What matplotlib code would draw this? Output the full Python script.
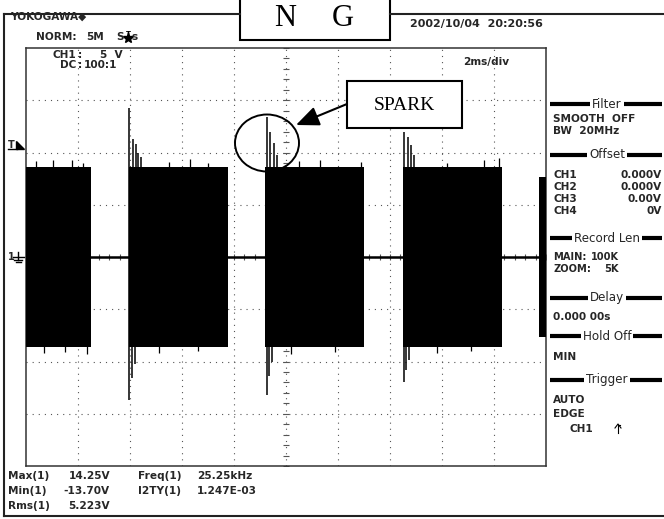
import matplotlib
matplotlib.use('Agg')
import matplotlib.pyplot as plt
from matplotlib.patches import Rectangle, Ellipse, FancyArrowPatch, Polygon
import numpy as np

ms_per_div = 2.0
volt_per_div = 5.0
n_xdiv, n_ydiv = 10, 8

burst_start_ms = [0.0, 3.96, 9.19, 14.50, 19.73]
burst_end_ms = [2.50, 7.77, 13.00, 18.30, 20.00]
burst_amp_v = [8.6, 8.6, 8.6, 8.6, 7.7]

spike_t_ms = [3.98, 4.12, 4.22, 4.30, 4.42, 9.28, 9.40, 9.54, 9.66, 14.54, 14.68, 14.80, 14.92, 19.75]
spike_hi_v = [14.25, 11.3, 10.8, 10.0, 9.6, 13.4, 12.0, 10.9, 9.8, 12.0, 11.5, 10.7, 9.8, 7.7]
spike_lo_t_ms = [3.98, 4.08, 4.18, 9.28, 9.36, 9.46, 14.54, 14.62, 14.72]
spike_lo_v = [-13.7, -11.6, -10.2, -13.2, -11.4, -10.0, -12.0, -10.8, -9.9]

glitch_t_ms = [0.38, 1.04, 1.77, 2.20, 5.50, 6.30, 7.00, 10.50, 11.30, 12.90, 16.20, 17.60, 18.20]
glitch_v = [9.2, 9.3, 9.3, 9.0, 9.1, 9.4, 9.0, 9.2, 9.3, 9.1, 9.0, 9.3, 9.5]
glitch_lo_t_ms = [0.70, 1.50, 2.35, 5.10, 6.60, 10.20, 11.90, 15.80, 17.10]
glitch_lo_v = [-9.2, -9.1, -9.3, -9.2, -9.0, -9.3, -9.1, -9.2, -9.0]

meas_names = ["Max(1)", "Min(1)", "Rms(1)"]
meas_values = ["14.25V", "-13.70V", "5.223V"]
meas2_names = ["Freq(1)", "I2TY(1)"]
meas2_values = ["25.25kHz", "1.247E-03"]

offset_ch = ["CH1", "CH2", "CH3", "CH4"]
offset_val = ["0.000V", "0.000V", "0.00V", "0V"]

# ---------------- figure ----------------
W, H = 664, 519
fig = plt.figure(figsize=(W / 100, H / 100), dpi=100)
fig.patch.set_facecolor('white')

L, T, R, B = 26, 48, 546, 466
ax = fig.add_axes([L / W, 1 - B / H, (R - L) / W, (B - T) / H])
xmax = n_xdiv * ms_per_div
ymax = n_ydiv / 2 * volt_per_div
ax.set_xlim(0, xmax)
ax.set_ylim(-ymax, ymax)
ax.set_xticks([]); ax.set_yticks([])
for s in ax.spines.values():
    s.set_linewidth(1.1)
    s.set_color('#333333')

gcol = '#555555'
for i in range(1, n_xdiv):
    ax.axvline(i * ms_per_div, color=gcol, lw=0.8, dashes=(1, 4.5), zorder=1)
for j in range(1, n_ydiv):
    ax.axhline(-ymax + j * volt_per_div, color=gcol, lw=0.8, dashes=(1, 4.5), zorder=1)

# centre-line graticule ticks
yt = np.arange(-ymax, ymax + 0.01, volt_per_div / 5)
ax.plot([xmax / 2] * len(yt), yt, ls='none', marker='_', ms=5, mew=0.8, color=gcol, zorder=1)
xt = np.arange(0, xmax + 0.01, ms_per_div / 5)
ax.plot(xt, [0] * len(xt), ls='none', marker='|', ms=4, mew=0.8, color=gcol, zorder=1)

# waveform: baseline, bursts, spikes
ax.axhline(0, color='black', lw=1.8, zorder=2)
for s, e, a in zip(burst_start_ms, burst_end_ms, burst_amp_v):
    ax.fill_between([s, e], [-a, -a], [a, a], color='black', lw=0, zorder=3)
ax.vlines(spike_t_ms, 0, spike_hi_v, color='black', lw=1.1, zorder=3)
ax.vlines(spike_lo_t_ms, spike_lo_v, 0, color='black', lw=1.1, zorder=3)
ax.vlines(glitch_t_ms, 0, glitch_v, color='black', lw=0.9, zorder=3)
ax.vlines(glitch_lo_t_ms, glitch_lo_v, 0, color='black', lw=0.9, zorder=3)

# ---------------- overlay in pixel coordinates ----------------
ov = fig.add_axes([0, 0, 1, 1], zorder=5)
ov.set_xlim(0, W); ov.set_ylim(H, 0)
ov.axis('off')
ov.patch.set_alpha(0)

fc = '#262626'
fn = 'DejaVu Sans'
def txt(x, y, s, size=7.6, ha='left', weight='bold', **kw):
    ov.text(x, y, s, fontsize=size, ha=ha, va='center', color=fc,
            family=fn, weight=weight, **kw)

# outer frame
ov.plot([4, 4], [14, 516], color='#222222', lw=1.5)
ov.plot([4, 240], [14, 14], color='#222222', lw=1.5)
ov.plot([390, 664], [14, 14], color='#222222', lw=1.5)
ov.plot([4, 664], [516, 516], color='#222222', lw=1.5)

# N G box
ov.add_patch(Rectangle((240, -2), 150, 42, facecolor='white', edgecolor='black', lw=1.5))
ov.text(285, 18, "N", fontsize=22, family='Liberation Serif', ha='center', va='center')
ov.text(343, 18, "G", fontsize=22, family='Liberation Serif', ha='center', va='center')

# header texts
txt(10, 17, "YOKOGAWA\u25C6")
txt(36, 37, "NORM:")
txt(86, 37, "5M")
txt(116, 37, "S")
txt(131, 37, "s")
ov.plot([127.5], [38], marker='*', ms=8, color='black')
ov.text(128.5, 34, "T", fontsize=5, family=fn, weight='bold', ha='center', va='center', color='black')
txt(410, 24, "2002/10/04  20:20:56", size=8)

# inside the screen
txt(76, 55, "CH1", ha='right')
txt(78, 55, ":")
txt(100, 55, "5  V")
txt(76, 65, "DC", ha='right')
txt(78, 65, ":")
txt(84, 65, "100:1")
txt(463, 62, "2ms/div")

# left markers
txt(8, 145, "T", size=7)
ov.plot([8, 17], [149, 149], color='black', lw=1)
ov.add_patch(Polygon([[16, 141], [16, 149], [24, 149]], closed=True, color='black'))
txt(8, 257, "1", size=7)
ov.plot([13, 24], [257, 257], color='black', lw=1)
ov.plot([18, 18], [252, 260], color='black', lw=1)
ov.plot([14, 22], [260, 260], color='black', lw=1)
ov.plot([15.5, 20.5], [262, 262], color='black', lw=1)

# right panel
headers = [("Filter", 104), ("Offset", 155), ("Record Len", 238),
           ("Delay", 298), ("Hold Off", 336), ("Trigger", 380)]
for name, y in headers:
    ov.plot([550, 662], [y, y], color='black', lw=3, solid_capstyle='butt')
    ov.text(607, y, name, fontsize=8.6, family=fn, ha='center', va='center', color=fc,
            bbox=dict(facecolor='white', edgecolor='none', pad=1.5))

txt(553, 119, "SMOOTH  OFF")
txt(553, 131, "BW  20MHz")
for k, (c, v) in enumerate(zip(offset_ch, offset_val)):
    yy = 175 + 12 * k
    txt(553, yy, c)
    txt(662, yy, v, ha='right')
txt(553, 257, "MAIN:", size=7.1)
txt(619, 257, "100K", ha='right', size=7.1)
txt(553, 269, "ZOOM:", size=7.1)
txt(619, 269, "5K", ha='right', size=7.1)
txt(553, 317, "0.000 00s")
txt(553, 357, "MIN")
txt(553, 400, "AUTO")
txt(553, 414, "EDGE")
txt(570, 429, "CH1")
ov.plot([618, 618, 620], [433, 425, 425], color='black', lw=0.8)
ov.plot([615, 618, 621], [428, 424, 428], color='black', lw=0.8)

# bottom measurements
for k, (n, v) in enumerate(zip(meas_names, meas_values)):
    yy = 476 + 15 * k
    txt(8, yy, n)
    txt(110, yy, v, ha='right')
for k, (n, v) in enumerate(zip(meas2_names, meas2_values)):
    yy = 476 + 15 * k
    txt(138, yy, n)
    txt(197, yy, v)

# SPARK annotation
ov.add_patch(Rectangle((347, 81), 115, 47, facecolor='white', edgecolor='black', lw=1.5))
ov.text(404.5, 105, "SPARK", fontsize=14, family='Liberation Serif', ha='center', va='center')
ov.add_patch(Ellipse((267, 143), 64, 57, facecolor='none', edgecolor='black', lw=1.4))
ov.add_patch(FancyArrowPatch((347, 104), (296, 125),
                             arrowstyle='-|>,head_length=14,head_width=6',
                             mutation_scale=1, color='black', lw=1.5,
                             shrinkA=0, shrinkB=0))

fig.savefig('out.png', dpi=100, facecolor='white')
